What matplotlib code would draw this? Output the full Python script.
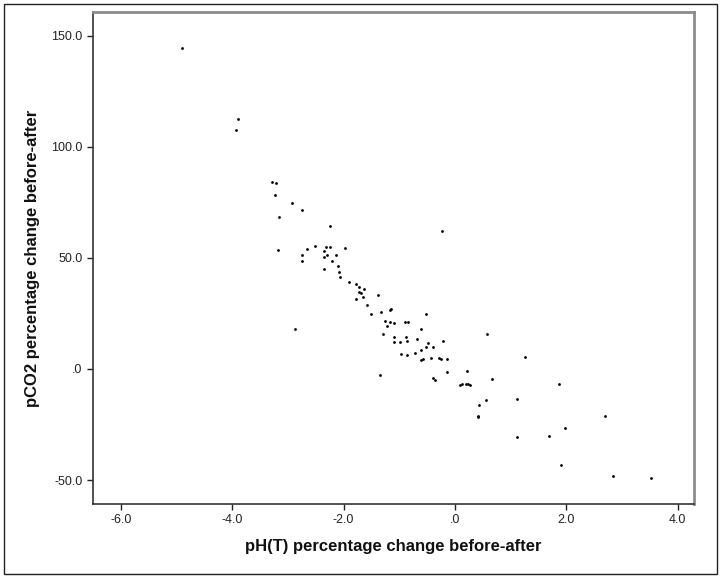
import numpy as np
import matplotlib.pyplot as plt
from matplotlib.patches import Rectangle
from matplotlib.ticker import FuncFormatter

# values
ph_change = [-4.91, -3.89, -3.94, -3.29, -3.21, -3.23, -2.93, -2.74, -3.16, -2.25,
             -0.23, -3.18, -2.66, -2.51, -2.74, -2.74, -2.35, -2.31, -2.25, -1.98,
             -2.30, -2.35, -2.13, -2.21, -2.35, -2.10, -2.09, -2.07, -1.91, -1.77,
             -1.72, -1.63, -1.73, -1.68, -1.66, -1.78, -1.39, -1.58, -1.15, -1.16,
             -1.33, -1.51, -0.53, -1.25, -1.16, -1.10, -1.22, -0.90, -0.84, -2.88,
             -0.61, 0.57, -1.29, -1.10, -0.88, -0.68, -1.10, -0.98, -0.87, -0.22,
             -0.48, -0.53, -0.39, -0.61, -0.97, -0.72, -0.86, -0.62, -0.57, -0.43,
             -0.29, -0.26, -0.15, 1.26, -0.14, 0.22, -1.35, -0.40, -0.36, 0.67,
             0.08, 0.12, 0.19, 0.23, 0.27, 1.87, 1.11, 0.56, 0.43, 0.42,
             0.42, 2.69, 1.97, 1.68, 1.12, 1.91, 2.83, 3.51]
pco2_change = [144.5, 112.5, 107.5, 84.3, 83.5, 78.3, 74.8, 71.5, 68.3, 64.2,
               62.2, 53.7, 54.2, 55.2, 51.3, 48.5, 53.3, 54.7, 54.8, 54.5,
               51.3, 50.2, 51.2, 48.5, 45.2, 46.2, 43.7, 41.2, 39.2, 38.2,
               37.0, 36.0, 34.5, 34.3, 32.3, 31.3, 33.3, 28.7, 27.2, 26.5,
               25.7, 24.8, 24.7, 21.8, 21.0, 20.7, 19.5, 21.0, 21.3, 18.0,
               18.2, 15.7, 15.8, 14.5, 14.5, 13.3, 12.2, 12.2, 12.5, 12.5,
               11.5, 10.0, 9.8, 8.7, 6.8, 7.0, 6.2, 4.2, 4.3, 5.0,
               4.8, 4.7, 4.3, 5.2, -1.3, -0.8, -2.5, -4.2, -5.0, -4.5,
               -7.2, -7.0, -6.7, -7.0, -7.3, -7.0, -13.5, -14.2, -16.3, -21.0,
               -21.8, -21.0, -26.7, -30.0, -30.7, -43.2, -48.3, -49.0]

xticks = [-6.0, -4.0, -2.0, 0.0, 2.0, 4.0]
yticks = [-50.0, 0.0, 50.0, 100.0, 150.0]

def spss_fmt(v, pos):
    s = "%.1f" % v
    if s.startswith("0."):
        s = s[1:]
    elif s.startswith("-0."):
        s = "-" + s[2:]
    return s

plt.rcParams['font.family'] = ['Liberation Sans', 'DejaVu Sans']

fig = plt.figure(figsize=(7.21, 5.79), dpi=100)
ax = fig.add_axes([93/721, 1 - 504/579, (694 - 93)/721, (504 - 12)/579])

ax.scatter(ph_change, pco2_change, s=4, c='black', marker='o', linewidths=0)

ax.set_xlim(-6.5, 4.29)
ax.set_ylim(-60.8, 160.7)
ax.set_xticks(xticks)
ax.set_yticks(yticks)
ax.xaxis.set_major_formatter(FuncFormatter(spss_fmt))
ax.yaxis.set_major_formatter(FuncFormatter(spss_fmt))
ax.tick_params(labelsize=9, colors='#222222', length=4, width=1)

for side in ['left', 'bottom']:
    ax.spines[side].set_color('#333333')
    ax.spines[side].set_linewidth(1.2)
for side in ['top', 'right']:
    ax.spines[side].set_color('#8c8c8c')
    ax.spines[side].set_linewidth(2)

ax.set_xlabel('pH(T) percentage change before-after', fontsize=12, fontweight='bold',
              color='#111111')
ax.set_ylabel('pCO2 percentage change before-after', fontsize=12, fontweight='bold',
              color='#111111')
ax.xaxis.set_label_coords(0.5, -0.072)
ax.yaxis.set_label_coords(-0.088, 0.5)

fig.patches.append(Rectangle((4/721, 5/579), 713/721, 570/579, transform=fig.transFigure,
                             fill=False, edgecolor='#222222', linewidth=1))

fig.savefig('out.png', dpi=100)
